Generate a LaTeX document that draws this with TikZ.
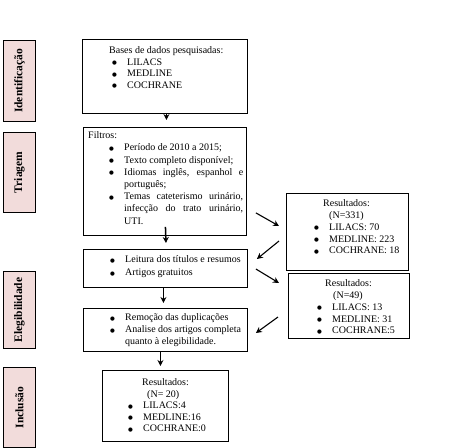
\documentclass[tikz,border=0pt]{standalone}
\usepackage{fontspec}
\setmainfont{Liberation Serif}
\newfontfamily\dejavu{DejaVu Sans}
\usetikzlibrary{calc,arrows.meta}
\definecolor{pinkbox}{HTML}{F2DCDB}
\newcommand{\bigbullet}{\raisebox{0.6pt}{\dejavu\fontsize{5.5}{6}\selectfont ●}}
\newcommand{\bul}[1]{\makebox[15pt][l]{\bigbullet}#1}
\newcommand{\fitem}[1]{\par\hangindent=36pt\hangafter=1\noindent\hspace*{21pt}\makebox[15pt][l]{\bigbullet}#1\par}
\begin{document}
\begin{tikzpicture}[x=1pt,y=-1pt,
  side/.style={draw, line width=0.9pt, fill=pinkbox, anchor=north west, inner sep=0pt, minimum width=32pt},
  sidetext/.style={rotate=90, inner sep=0pt, font=\fontsize{11.5}{13}\selectfont\bfseries},
  flowbox/.style={draw, line width=0.9pt, anchor=north west, inner sep=0pt},
  txt/.style={anchor=north west, inner sep=0pt, align=left},
  arr/.style={-{Stealth[length=6pt,width=6pt]}, line width=1.5pt},
  darr/.style={-{Stealth[length=6pt,width=6pt]}, line width=1.1pt}]
\useasboundingbox (0,0) rectangle (459,448);
% side labels
\node[side, minimum height=81pt] (s1) at (3,40) {};
\node[sidetext] (s1t) at (s1.center) {Identificação};
\node[side, minimum height=80pt] (s2) at (3,132) {};
\node[sidetext] (s2t) at (s2.center) {Triagem};
\node[side, minimum height=77pt] (s3) at (3,271) {};
\node[sidetext] (s3t) at (s3.center) {Elegibilidade};
\node[side, minimum height=80pt] (s4) at (3,367) {};
\node[sidetext] (s4t) at (s4.center) {Inclusão};
% main boxes
\node[flowbox, minimum width=165pt, minimum height=74pt] (b1) at (82,39) {};
\node[flowbox, minimum width=163pt, minimum height=108pt] (b2) at (83,127) {};
\node[flowbox, minimum width=164pt, minimum height=38pt] (b3) at (83,249) {};
\node[flowbox, minimum width=164pt, minimum height=43pt] (b4) at (83,308) {};
\node[flowbox, minimum width=126pt, minimum height=71pt] (b5) at (102,370) {};
\node[flowbox, minimum width=122pt, minimum height=77pt] (r1) at (286,193) {};
\node[flowbox, minimum width=121pt, minimum height=65pt] (r2) at (288,273) {};
% texts
\node[txt, font=\fontsize{10}{11.5}\selectfont] (t1) at (109,46.5) {Bases de dados pesquisadas:\\
\hspace*{3pt}\bul{LILACS}\\ \hspace*{3pt}\bul{MEDLINE}\\ \hspace*{3pt}\bul{COCHRANE}};
\node[txt] (t2) at (88,131.5) {\parbox[t]{155pt}{\fontsize{10}{12.2}\selectfont\hyphenpenalty=10000\exhyphenpenalty=10000\parindent=0pt
Filtros:\par
\fitem{Período de 2010 a 2015;}
\fitem{Texto completo disponível;}
\fitem{Idiomas inglês, espanhol e português;}
\fitem{Temas cateterismo urinário, infecção do trato urinário, UTI.}}};
\node[txt, font=\fontsize{10}{13}\selectfont] (t3) at (110,255.5) {\bul{Leitura dos títulos e resumos}\\ \bul{Artigos gratuitos}};
\node[txt, font=\fontsize{10}{12}\selectfont] (t4) at (110,313.5) {\bul{Remoção das duplicações}\\ \bul{Analise dos artigos completa}\\ \hspace*{15pt}quanto à elegibilidade.};
\node[txt, font=\fontsize{10}{11.5}\selectfont] (t5) at (128,378.5) {\hspace*{14pt}Resultados:\\ \hspace*{19pt}(N= 20)\\ \bul{LILACS:4}\\ \bul{MEDLINE:16}\\ \bul{COCHRANE:0}};
\node[txt, font=\fontsize{10}{11.8}\selectfont] (tr1) at (314,199.5) {\hspace*{9pt}Resultados:\\ \hspace*{15pt}(N=331)\\ \bul{LILACS: 70}\\ \bul{MEDLINE: 223}\\ \bul{COCHRANE: 18}};
\node[txt, font=\fontsize{10}{11.8}\selectfont] (tr2) at (317,279.5) {\hspace*{8pt}Resultados:\\ \hspace*{16pt}(N=49)\\ \bul{LILACS: 13}\\ \bul{MEDLINE: 31}\\ \bul{COCHRANE:5}};
% vertical arrows
\draw[arr] ($(b1.south)+(1.5,0)$) -- ($(b2.north)+(1.5,-7)$);
\draw[arr] ($(b2.south)+(0.5,-9)$) -- ($(b3.north)+(0.5,-6)$);
\draw[arr] ($(b3.south)+(-2,0)$) -- ($(b4.north)+(-2,-5)$);
\draw[arr] ($(b4.south)+(-5,0)$) -- ($(b5.north)+(-5,-4)$);
% diagonal arrows
\draw[darr] ($(b2.south east)+(9,-23)$) -- ($(r1.north west)+(-7,33)$);
\draw[darr] ($(r1.north west)+(-7,48)$) -- ($(b3.north east)+(9,10)$);
\draw[darr] ($(b3.north east)+(8,20)$) -- ($(r2.north west)+(-9,10)$);
\draw[darr] ($(r2.north west)+(-10,44)$) -- ($(b4.north east)+(8,25)$);
\end{tikzpicture}
\end{document}
